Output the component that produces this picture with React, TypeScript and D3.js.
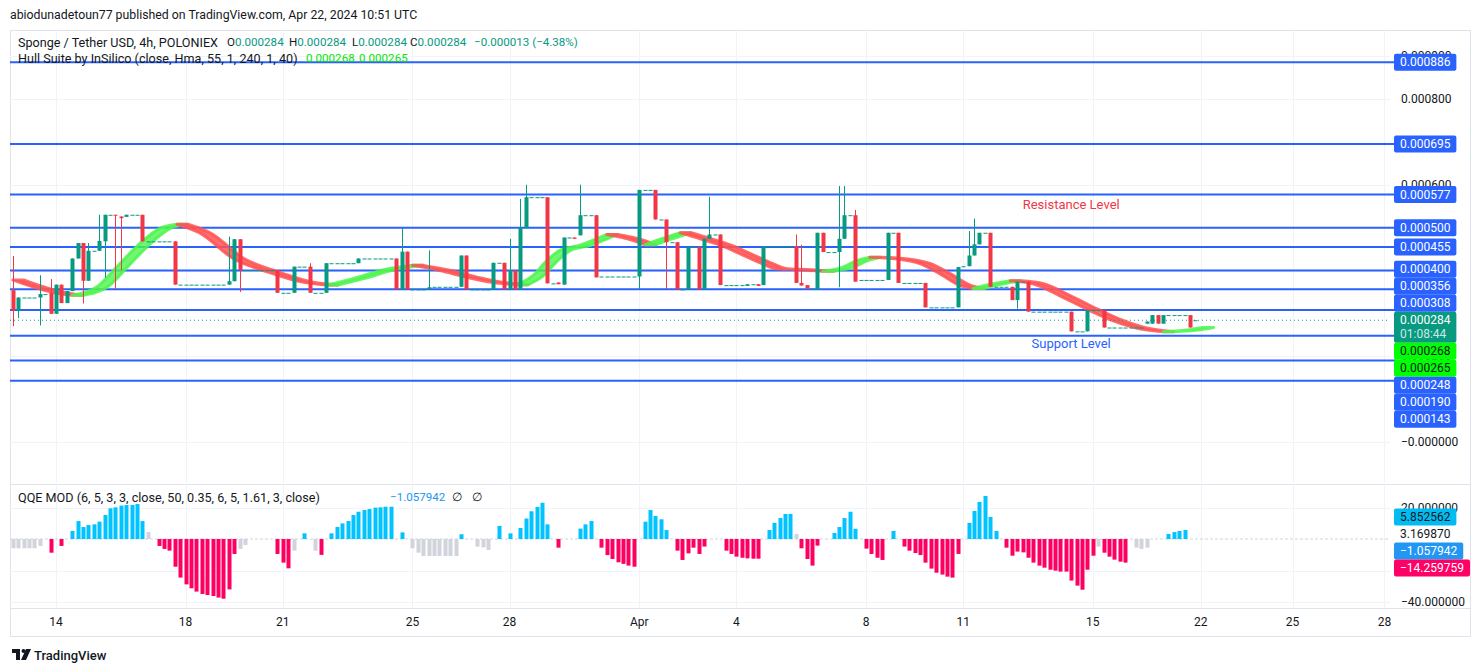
import React, { useRef, useEffect } from 'react';
import * as d3 from 'd3';

// prices are in millionths of USDT
const levels = [886, 695, 577, 500, 455, 400, 356, 308, 248, 190, 143];
const priceTicks = [900, 800, 600, 400, 200, 0];
const priceTickLabels = ['0.000900', '0.000800', '0.000600', '0.000400', '0.000200', '\u22120.000000'];
const dayTicks = [8, 32, 50, 74, 92, 116, 134, 158, 176, 200, 220, 237, 254];
const dayLabels = ['14', '18', '21', '25', '28', 'Apr', '4', '8', '11', '15', '22', '25', '28'];

// [bar, open, high, low, close]
const candles = [
    [0, 354, 434, 270, 307], [1, 307, 337, 289, 337], [5, 337, 389, 272, 345], [7, 348, 380, 299, 299],
    [8, 299, 367, 299, 367], [9, 367, 367, 324, 324], [10, 324, 352, 324, 352], [11, 352, 428, 352, 428],
    [12, 428, 464, 428, 464], [13, 464, 464, 323, 376], [14, 376, 464, 376, 446], [16, 446, 530, 446, 469],
    [17, 468, 530, 383, 530], [19, 530, 530, 354, 528], [20, 526, 526, 401, 522], [21, 525, 530, 525, 530],
    [24, 530, 530, 468, 468], [30, 468, 468, 367, 367], [40, 367, 479, 367, 375], [41, 375, 473, 375, 473],
    [42, 473, 473, 350, 401], [49, 401, 401, 348, 348], [52, 348, 409, 348, 409], [55, 409, 417, 348, 348],
    [58, 348, 417, 348, 417], [64, 417, 428, 417, 428], [71, 428, 428, 356, 356], [72, 356, 499, 356, 444],
    [73, 444, 444, 356, 356], [77, 356, 447, 356, 361], [83, 362, 435, 362, 435], [84, 435, 435, 356, 356],
    [89, 356, 418, 356, 418], [91, 418, 418, 356, 356], [92, 356, 474, 356, 400], [93, 400, 400, 356, 356],
    [94, 356, 567, 356, 499], [95, 499, 600, 499, 571], [99, 571, 571, 370, 370], [101, 372, 372, 368, 368],
    [102, 367, 477, 367, 477], [104, 477, 477, 474, 474], [105, 482, 600, 482, 529], [108, 529, 529, 384, 384],
    [116, 386, 588, 356, 588], [119, 588, 588, 519, 519], [121, 519, 519, 356, 466], [123, 466, 466, 356, 356],
    [125, 356, 455, 356, 455], [127, 455, 455, 356, 356], [128, 356, 474, 356, 474], [129, 474, 572, 474, 484],
    [131, 484, 484, 366, 366], [136, 364, 368, 364, 368], [138, 368, 368, 364, 364], [139, 366, 457, 366, 457],
    [145, 457, 484, 371, 371], [146, 371, 460, 365, 365], [147, 366, 366, 358, 358], [148, 356, 358, 356, 358],
    [149, 356, 488, 356, 488], [150, 488, 488, 443, 443], [153, 443, 597, 361, 474], [154, 474, 597, 474, 529],
    [156, 529, 541, 374, 374], [162, 378, 488, 378, 488], [164, 488, 488, 371, 371], [169, 371, 371, 314, 314],
    [175, 314, 408, 314, 408], [177, 410, 492, 410, 435], [178, 435, 521, 435, 461], [179, 461, 488, 461, 488],
    [181, 488, 488, 362, 362], [185, 362, 362, 331, 331], [186, 331, 374, 311, 374], [188, 374, 374, 304, 304],
    [196, 304, 304, 258, 258], [199, 258, 308, 258, 308], [202, 308, 308, 267, 267], [210, 276, 281, 276, 281],
    [211, 276, 296, 276, 296], [212, 296, 296, 276, 276], [213, 276, 296, 276, 296], [218, 296, 296, 267, 267],
];

// runs of flat 4h bars: [fromBar, toBar, price]
const flats = [
    [2, 4, 337], [6, 6, 345], [15, 15, 446], [18, 18, 530], [22, 23, 530], [25, 29, 468], [31, 39, 367],
    [43, 48, 401], [50, 51, 348], [53, 54, 409], [56, 57, 348], [59, 63, 417], [65, 70, 428], [74, 76, 356],
    [78, 82, 362], [85, 88, 356], [90, 90, 418], [96, 98, 571], [100, 100, 370], [103, 103, 477],
    [106, 107, 529], [109, 115, 386], [117, 118, 588], [120, 120, 519], [122, 122, 466], [124, 124, 356],
    [126, 126, 455], [130, 130, 484], [132, 135, 366], [137, 137, 368], [140, 144, 457], [151, 152, 443],
    [155, 155, 529], [157, 161, 378], [163, 163, 488], [165, 168, 371], [170, 174, 314], [176, 176, 410],
    [180, 180, 488], [182, 184, 362], [187, 187, 374], [189, 195, 304], [197, 198, 258], [200, 201, 308],
    [203, 209, 267], [214, 217, 296], [219, 219, 284],
];

// Hull moving average: [bar, price]
const hull = [
    [0, 378], [7, 350], [11, 342], [15.6, 362], [19.3, 409], [23.6, 464], [27.3, 499], [30.4, 508],
    [34.7, 487], [40.8, 428], [47.1, 397], [53.2, 374], [58.2, 366], [63, 381], [68.5, 401], [74, 412],
    [79.1, 400], [84.1, 384], [88.9, 372], [93.4, 367], [96.3, 388], [98.9, 423], [101.3, 447], [105, 459],
    [110, 484], [114.9, 470], [117.1, 460], [119.9, 473], [123.6, 488], [127.3, 474], [131, 459],
    [134.7, 439], [138.4, 418], [141.5, 404], [145.8, 402], [150, 398], [153.7, 408], [156.3, 423],
    [158.7, 431], [163.8, 427], [168, 416], [171.7, 392], [175.4, 365], [177.8, 358], [181.5, 369],
    [184.7, 376], [188.9, 369], [193.9, 341], [198.9, 310], [203.7, 283], [208.7, 264], [213, 257],
    [217.4, 261], [220.4, 267],
];

// QQE MOD histogram: [startBar, trend (u up / d down / n neutral), values]
const qqeSegments: [number, string, number[]][] = [
    [0, 'n', [-5.9, -5.9, -5.9, -5.9, -5.9, -4.4]],
    [7, 'd', [-8.7]],
    [9, 'd', [-4.4]],
    [11, 'u', [5.1, 11.4, 7.6, 8.9, 9.3, 11.0, 15.2, 19.5, 20.1, 21.2, 21.6, 21.6, 22.2, 11.4]],
    [25, 'n', [4.4]],
    [27, 'd', [-4.4, -6.3, -7.4, -17.6, -24.5, -28.8, -31.3, -33.4, -34.9, -35.6, -36.2, -37.2, -37.9, -32, -9.5]],
    [42, 'n', [-6.3, -3.8]],
    [49, 'd', [-9.5, -15, -18.6]],
    [52, 'n', [-7.4]],
    [54, 'u', [3.6]],
    [56, 'n', [-7.4]],
    [57, 'd', [-10.1]],
    [59, 'u', [3.6, 7.6, 9.9, 11.4, 15.2, 17.3, 18.4, 19.0, 19.9, 20.1, 20.5, 20.5]],
    [72, 'u', [4.2]],
    [74, 'n', [-5.9, -8.7, -10.8, -10.8, -10.8, -10.8, -10.8, -10.8, -10.8]],
    [83, 'u', [3.0]],
    [86, 'n', [-4.8, -5.3, -7.0]],
    [90, 'u', [8.3]],
    [92, 'u', [3.6]],
    [94, 'u', [7.0, 13.0, 17.6, 20.3, 23.0, 9.3]],
    [101, 'd', [-5.5]],
    [105, 'u', [6.6, 9.3, 11.4]],
    [109, 'd', [-5.5, -10.2, -12.7, -14.8, -15.8, -16.9, -17.6]],
    [117, 'u', [11.0, 18.4, 14.6, 12.5, 5.7]],
    [123, 'd', [-7.4, -13.3, -9.1, -5.5, -9.5, -4.8]],
    [132, 'd', [-7.4, -9.5, -11.2, -11.9, -12.3, -12.5, -12.5]],
    [140, 'u', [5.7, 10.2, 13.3, 15.9, 15.9]],
    [145, 'n', [3.2]],
    [146, 'd', [-5.9, -12.7, -16.9, -4.2]],
    [152, 'u', [3.8, 7.6, 13.3, 17.3, 6.5]],
    [158, 'd', [-6.1, -9.5, -11.9, -13.3]],
    [163, 'u', [5.1]],
    [165, 'd', [-4.8, -7.4, -8.9, -10.2, -15, -18.8, -21.4, -22.6, -23.9, -24.5, -9.5]],
    [177, 'u', [10.2, 17.8, 23.5, 27.3, 14.0, 5.1]],
    [184, 'd', [-5.5, -10.6, -8.0, -8.5, -11.9, -15, -16.9, -18.2, -19.5, -20.1, -20.7, -20.7, -26.4, -29.6, -32.2, -19.5, -10.6]],
    [201, 'n', [-4.8]],
    [202, 'd', [-8.7, -11.2, -13.1, -14.4, -15]],
    [208, 'n', [-5.5, -6.3, -5.5]],
    [214, 'u', [3.2, 4.4, 5.1, 5.7]],
];
const qqeTicks = [20, -20, -40];
const qqeTickLabels = ['20.000000', '\u221220.000000', '\u221240.000000'];
const qqeValues = [5.852562, 3.16987, -1.057942, -14.259759];
const qqeValueLabels = ['5.852562', '3.169870', '\u22121.057942', '\u221214.259759'];

const currentPrice = 284;
const countdown = '01:08:44';
const hullValues = [268, 265];
const ohlc = [['O', '0.000284'], ['H', '0.000284'], ['L', '0.000284'], ['C', '0.000284']];
const change = '\u22120.000013 (\u22124.38%)';
const resistanceNote = { bar: 196, price: 553, text: 'Resistance Level' };
const supportNote = { bar: 196, price: 229, text: 'Support Level' };

const FONT = 'Roboto, "Noto Sans", sans-serif';
const INK = '#131722';
const UP = '#089981';
const DOWN = '#F23645';
const BLUE = '#2962FF';

export default function App() {
    const svgRef = useRef<SVGSVGElement | null>(null);

    useEffect(() => {
        const width = 1480;
        const height = 672;
        const plotL = 10;
        const plotR = 1390;
        const priceTop = 30;
        const paneSplit = 484;
        const qqeBottom = 608;
        const frameBottom = 636;

        d3.select(svgRef.current).selectAll('*').remove();
        const svg = d3.select(svgRef.current).attr('width', width).attr('height', height);

        const x = d3.scaleLinear().domain([0, 254]).range([12.8, 12.8 + 254 * 5.4]);
        const y = d3.scaleLinear().domain([0, 800]).range([442, 99]);
        const yq = d3.scaleLinear().domain([-40, 20]).range([602, 507.5]);

        const txt = (g: any, tx: number, ty: number, s: string, size = 12, fill = INK) =>
            g.append('text').attr('x', tx).attr('y', ty).attr('dominant-baseline', 'central')
                .attr('font-family', FONT).attr('font-size', size).attr('fill', fill).text(s);

        // frame and pane separators
        svg.append('rect').attr('x', 10.5).attr('y', priceTop + 0.5).attr('width', 1460).attr('height', frameBottom - priceTop)
            .attr('fill', 'none').attr('stroke', '#e0e3eb');
        svg.append('line').attr('x1', 10).attr('x2', 1470).attr('y1', paneSplit + 0.5).attr('y2', paneSplit + 0.5).attr('stroke', '#e0e3eb');
        svg.append('line').attr('x1', 10).attr('x2', 1470).attr('y1', qqeBottom + 0.5).attr('y2', qqeBottom + 0.5).attr('stroke', '#e0e3eb');

        // grid
        const grid = svg.append('g').attr('stroke', '#f0f3fa');
        dayTicks.forEach((b) => {
            grid.append('line').attr('x1', Math.round(x(b)) + 0.5).attr('x2', Math.round(x(b)) + 0.5)
                .attr('y1', priceTop + 1).attr('y2', qqeBottom);
        });
        priceTicks.forEach((p) => {
            grid.append('line').attr('x1', plotL).attr('x2', plotR).attr('y1', Math.round(y(p)) + 0.5).attr('y2', Math.round(y(p)) + 0.5);
        });
        qqeTicks.forEach((v) => {
            grid.append('line').attr('x1', plotL).attr('x2', plotR).attr('y1', Math.round(yq(v)) + 0.5).attr('y2', Math.round(yq(v)) + 0.5);
        });

        // horizontal levels
        levels.forEach((p) => {
            svg.append('line').attr('x1', plotL).attr('x2', 1396).attr('y1', y(p)).attr('y2', y(p))
                .attr('stroke', BLUE).attr('stroke-width', 2);
        });

        // hull band, split into rising / falling runs
        const runs: { up: boolean; pts: number[][] }[] = [];
        for (let k = 0; k < hull.length - 1; k++) {
            const up = hull[k + 1][1] >= hull[k][1];
            const last = runs[runs.length - 1];
            if (last && last.up === up) last.pts.push(hull[k + 1]);
            else runs.push({ up, pts: [hull[k], hull[k + 1]] });
        }
        const hl = d3.line<number[]>().x((d) => x(d[0])).y((d) => y(d[1])).curve(d3.curveMonotoneX);
        runs.forEach((r) => {
            const main = hl(r.pts) as string;
            const shifted = r.pts.map((d) => [d[0] + 2, d[1]]);
            const back = hl(shifted.slice().reverse()) as string;
            const col = r.up ? '#4cf54c' : '#ff5252';
            svg.append('path').attr('d', main + 'L' + back.slice(1) + 'Z')
                .attr('fill', col).attr('fill-opacity', r.up ? 0.8 : 0.85)
                .attr('stroke', col).attr('stroke-opacity', 0.85).attr('stroke-width', 3).attr('stroke-linejoin', 'round');
        });

        // candles
        const bars: number[][] = candles.map((c) => c.slice());
        flats.forEach(([a, b, p]) => {
            for (let i = a; i <= b; i++) bars.push([i, p, p, p, p]);
        });
        const cg = svg.append('g');
        bars.forEach(([i, o, h, l, c]) => {
            const cx = Math.round(x(i));
            const col = c >= o ? UP : DOWN;
            if (h > l) {
                cg.append('line').attr('x1', cx + 0.5).attr('x2', cx + 0.5).attr('y1', y(h)).attr('y2', y(l))
                    .attr('stroke', col).attr('stroke-width', 1);
            }
            const top = y(Math.max(o, c));
            const bh = Math.max(1, Math.abs(y(o) - y(c)));
            cg.append('rect').attr('x', cx - 1.5).attr('y', top).attr('width', 4).attr('height', bh).attr('fill', col);
        });

        // current price line
        svg.append('line').attr('x1', plotL).attr('x2', plotR).attr('y1', y(currentPrice)).attr('y2', y(currentPrice))
            .attr('stroke', UP).attr('stroke-dasharray', '1,3');

        // notes
        txt(svg, x(resistanceNote.bar), y(resistanceNote.price), resistanceNote.text, 13, DOWN).attr('text-anchor', 'middle');
        txt(svg, x(supportNote.bar), y(supportNote.price), supportNote.text, 13, BLUE).attr('text-anchor', 'middle');

        // QQE histogram
        svg.append('line').attr('x1', plotL).attr('x2', plotR).attr('y1', yq(0)).attr('y2', yq(0))
            .attr('stroke', '#d1d4dc').attr('stroke-dasharray', '3,2');
        const qColor: Record<string, string> = { u: '#00c3ff', d: '#ff0062', n: '#d1d4dc' };
        qqeSegments.forEach(([start, kind, vals]) => {
            vals.forEach((v, k) => {
                const cx = Math.round(x(start + k));
                svg.append('rect').attr('x', cx - 1.5).attr('width', 4)
                    .attr('y', Math.min(yq(v), yq(0))).attr('height', Math.abs(yq(v) - yq(0)))
                    .attr('fill', qColor[kind]);
            });
        });

        // x axis labels
        dayTicks.forEach((b, k) => {
            txt(svg, x(b), 622, dayLabels[k]).attr('text-anchor', 'middle');
        });

        // price scale tick labels
        priceTicks.forEach((p, k) => txt(svg, 1401, y(p), priceTickLabels[k]));
        qqeTicks.forEach((v, k) => txt(svg, 1401, yq(v), qqeTickLabels[k]));

        // stacked value labels on the right scale
        const stack = (items: { y: number; h: number }[], anchor: number) => {
            const tops = items.map((d) => d.y - 8.5);
            for (let j = anchor - 1; j >= 0; j--) tops[j] = Math.min(tops[j], tops[j + 1] - items[j].h);
            for (let j = anchor + 1; j < items.length; j++) tops[j] = Math.max(tops[j], tops[j - 1] + items[j - 1].h);
            return tops;
        };
        const fmt = (p: number) => (p / 1e6).toFixed(6);
        type Lab = { y: number; h: number; text: string; bg: string | null; fg: string; sub?: string; p: number };
        const priceLabs: Lab[] = [
            ...levels.map((p) => ({ p, y: y(p), h: 17, text: fmt(p), bg: BLUE, fg: '#ffffff' })),
            { p: currentPrice, y: y(currentPrice), h: 31, text: fmt(currentPrice), bg: UP, fg: '#ffffff', sub: countdown },
            ...hullValues.map((p) => ({ p, y: y(p), h: 17, text: fmt(p), bg: '#00ff00', fg: INK })),
        ].sort((a, b) => b.p - a.p);
        const qBg = ['#00bcf2', null, '#2196f3', '#ff0066'];
        const qFg = [INK, INK, '#ffffff', '#ffffff'];
        const qqeLabs: Lab[] = qqeValues.map((v, k) => ({ p: v, y: yq(v), h: 17, text: qqeValueLabels[k], bg: qBg[k], fg: qFg[k] }));

        const drawLabels = (labs: Lab[], anchor: number) => {
            const tops = stack(labs, anchor);
            labs.forEach((d, k) => {
                const g = svg.append('g');
                const rect = g.append('rect').attr('x', 1394).attr('y', tops[k]).attr('height', d.h).attr('rx', 2);
                const t = txt(g, 1400, tops[k] + 8.5, d.text, 12, d.fg);
                const w = (t.node() as SVGTextElement).getComputedTextLength();
                if (d.sub) txt(g, 1400, tops[k] + 22.5, d.sub, 12, d.fg).attr('fill-opacity', 0.8);
                if (d.bg) rect.attr('width', w + 12).attr('fill', d.bg);
                else rect.remove();
            });
        };
        drawLabels(priceLabs, priceLabs.findIndex((d) => d.sub));
        drawLabels(qqeLabs, 1);

        // header and legends
        const vs = 11.6;
        txt(svg, 10, 15, 'abiodunadetoun77 published on TradingView.com, Apr 22, 2024 10:51 UTC', 12.3);
        txt(svg, 18, 42, 'Sponge / Tether USD, 4h, POLONIEX', 12.6);
        const ohlcX = [227, 289, 352, 410];
        ohlc.forEach(([k, v], n) => {
            const t = txt(svg, ohlcX[n], 42, '', vs);
            t.append('tspan').text(k);
            t.append('tspan').attr('fill', UP).text(v);
        });
        txt(svg, 474, 42, change, vs, UP);
        txt(svg, 18, 58, 'Hull Suite by InSilico (close, Hma, 55, 1, 240, 1, 40)', 12.6);
        txt(svg, 306, 58, fmt(hullValues[0]), vs, '#00e600');
        txt(svg, 359, 58, fmt(hullValues[1]), vs, '#00e600');
        txt(svg, 18, 497, 'QQE MOD (6, 5, 3, 3, close, 50, 0.35, 6, 5, 1.61, 3, close)', 12.6);
        txt(svg, 390, 497, qqeValueLabels[2], vs, '#2196f3');
        txt(svg, 452, 497, '\u2205', vs);
        txt(svg, 472, 497, '\u2205', vs);

        // footer logo
        const logo = svg.append('g').attr('fill', INK);
        logo.append('path').attr('d', 'M12 649 h8 v11 h-4 v-7 h-4 z');
        logo.append('circle').attr('cx', 23.5).attr('cy', 651).attr('r', 2);
        logo.append('path').attr('d', 'M26 649 h5 l-5 11 h-5 z');
        txt(svg, 34, 655, 'TradingView', 13, INK).attr('font-weight', 500);
    }, []);

    return <svg ref={svgRef} style={{ position: 'absolute', left: 0, top: 0, background: '#ffffff' }}></svg>;
}
